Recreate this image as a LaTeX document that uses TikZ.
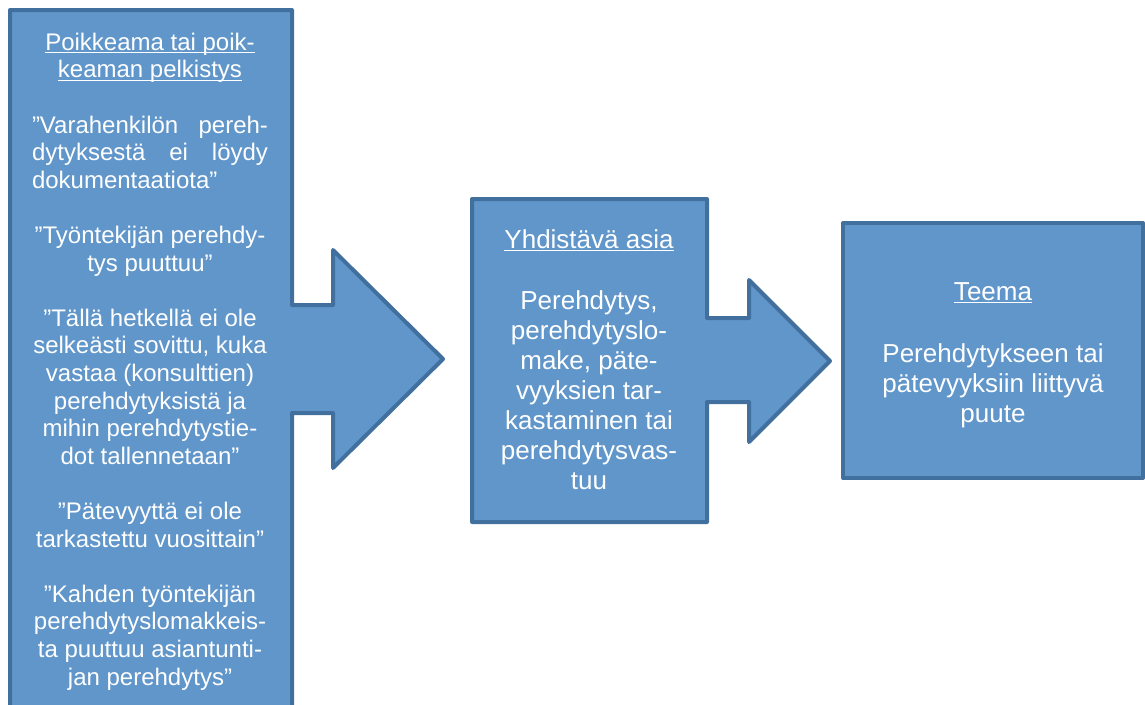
\documentclass[tikz,border=0pt]{standalone}
\usepackage{fontspec}
\setmainfont{Liberation Sans}
\definecolor{boxfill}{RGB}{96,150,202}
\definecolor{boxline}{RGB}{65,112,158}
\newcommand\ulx[1]{\setbox0\hbox{#1}\rlap{\rule[-3pt]{\wd0}{1.3pt}}\box0}
\begin{document}
\begin{tikzpicture}[x=1pt,y=-1pt,
  shapestyle/.style={fill=boxfill, draw=boxline, line width=4pt, line join=round},
  txt/.style={text=white, align=center, inner sep=0pt, anchor=north},
  smalltxt/.style={txt, font=\fontsize{24}{27.6}\selectfont},
  bigtxt/.style={txt, font=\fontsize{26}{30}\selectfont}]
\useasboundingbox (0,0) rectangle (1145,704);
\clip (0,0) rectangle (1145,704);
% left callout
\draw[shapestyle] (10,10) -- (292,10) -- (292,305) -- (333,305) -- (333,250)
  -- (443,359) -- (333,468) -- (333,413) -- (292,413) -- (292,730)
  -- (10,730) -- cycle;
% middle callout
\draw[shapestyle] (472,199) -- (707,199) -- (707,318) -- (749,318) -- (749,280)
  -- (830,361) -- (749,442) -- (749,402) -- (707,402) -- (707,522)
  -- (472,522) -- cycle;
% right box
\draw[shapestyle] (843,223) rectangle (1143,478);
\node[smalltxt] (lefttext) at (150,28) {\rule{0pt}{22pt}\ulx{Poikkeama tai poik-}\\
  \ulx{keaman pelkistys}\\[27.6pt]
  \makebox[236pt][s]{”Varahenkilön pereh-}\\
  \makebox[236pt][s]{dytyksestä ei löydy}\\
  \makebox[236pt][l]{dokumentaatiota”}\\[27.6pt]
  ”Työntekijän perehdy-\\
  tys puuttuu”\\[27.6pt]
  ”Tällä hetkellä ei ole\\
  selkeästi sovittu, kuka\\
  vastaa (konsulttien)\\
  perehdytyksistä ja\\
  mihin perehdytystie-\\
  dot tallennetaan”\\[27.6pt]
  ”Pätevyyttä ei ole\\
  tarkastettu vuosittain”\\[27.6pt]
  ”Kahden työntekijän\\
  perehdytyslomakkeis-\\
  ta puuttuu asiantunti-\\
  jan perehdytys”};
\node[bigtxt] (midtext) at (589,225) {\rule{0pt}{23pt}\ulx{Yhdistävä asia}\\[31pt]
  Perehdytys,\\
  perehdytyslo-\\
  make, päte-\\
  vyyksien tar-\\
  kastaminen tai\\
  perehdytysvas-\\
  tuu};
\node[bigtxt] (righttext) at (993,277) {\rule{0pt}{23pt}\ulx{Teema}\\[32pt]
  Perehdytykseen tai\\
  pätevyyksiin liittyvä\\
  puute};
\end{tikzpicture}
\end{document}
